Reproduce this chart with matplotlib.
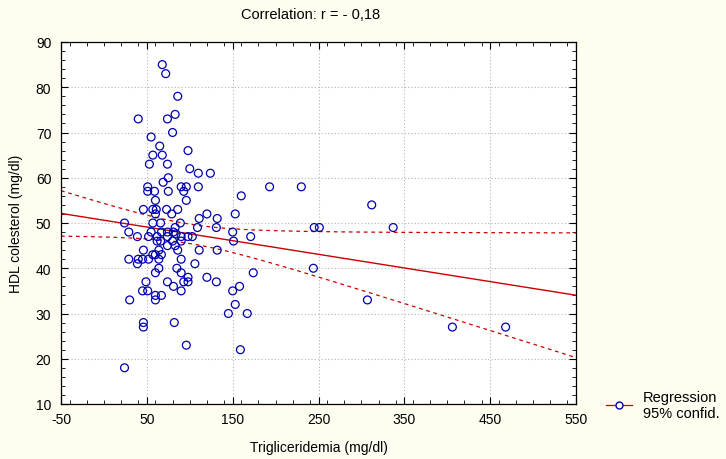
"""Scatter of HDL cholesterol vs triglycerides with regression line and 95% band."""

import matplotlib

matplotlib.use("Agg")
import matplotlib.pyplot as plt
import numpy as np
from matplotlib.lines import Line2D
from matplotlib.ticker import MultipleLocator

# values (mg/dl)
trig = [
    68, 72, 86, 40, 74, 83, 80, 55, 65, 98, 57, 68, 53, 74, 100, 110, 124, 75,
    69, 51, 59, 51, 75, 90, 96, 93, 110, 60, 96,
    46, 57, 61, 73, 86, 79, 60, 120, 111, 132,
    24, 57, 66, 89, 83, 109, 131,
    29, 55, 67, 74, 81, 84,
    39, 52, 62, 74, 90, 98, 103,
    62, 66, 80, 90, 74, 83,
    46, 64, 86, 111, 132, 57, 60, 67,
    29, 40, 45, 52, 64, 90, 39, 106,
    64, 85, 60, 90, 98, 120,
    49, 74, 93, 98, 131, 81, 45, 51, 90, 60, 67,
    30, 60, 153, 145, 167, 46, 46, 82, 96, 159, 24,
    193, 230, 160, 153, 150, 171, 151, 312, 245, 251, 337,
    174, 244, 150, 158, 307, 406, 468,
]
hdl = [
    85, 83, 78, 73, 73, 74, 70, 69, 67, 66, 65, 65, 63, 63, 62, 61, 61, 60,
    59, 58, 57, 57, 57, 58, 58, 57, 58, 55, 55,
    53, 53, 53, 53, 53, 52, 52, 52, 51, 51,
    50, 50, 50, 50, 49, 49, 49,
    48, 48, 48, 48, 48, 47.6,
    47, 47, 47, 47, 47, 47, 47,
    46, 46, 46, 46, 45, 45,
    44, 44, 44, 44, 44, 43, 43, 43,
    42, 42, 42, 42, 42, 42, 41, 41,
    40, 40, 39, 39, 38, 38,
    37, 37, 37, 37, 37, 36, 35, 35, 35, 34, 34,
    33, 33, 32, 30, 30, 28, 27, 28, 23, 22, 18,
    58, 58, 56, 52, 48, 47, 46, 54, 49, 49, 49,
    39, 40, 35, 36, 33, 27, 27,
]

x = np.asarray(trig, dtype=float)
y = np.asarray(hdl, dtype=float)
n = len(x)
slope, intercept = np.polyfit(x, y, 1)
resid = y - (intercept + slope * x)
s = np.sqrt(np.sum(resid ** 2) / (n - 2))
sxx = np.sum((x - x.mean()) ** 2)
r = np.corrcoef(x, y)[0, 1]
print(f"n={n} r={r:.3f} slope={slope:.4f} intercept={intercept:.2f}")

xs = np.linspace(-50, 550, 200)
fit = intercept + slope * xs
half = 1.98 * s * np.sqrt(1.0 / n + (xs - x.mean()) ** 2 / sxx)

plt.rcParams.update(
    {
        "font.family": ["Liberation Sans", "DejaVu Sans"],
        "font.size": 10,
        "axes.unicode_minus": False,
    }
)

bg = "#fffdf0"
red = "#cc0000"
blue = "#0000b0"

fig = plt.figure(figsize=(7.26, 4.60), dpi=100, facecolor=bg)
ax = fig.add_axes([61 / 726, 55 / 460, 515 / 726, 362 / 460])
ax.set_facecolor("white")

ax.plot(xs, fit, color=red, lw=1.0, zorder=2)
ax.plot(xs, fit + half, color=red, lw=0.9, ls=(0, (3, 3)), zorder=2)
ax.plot(xs, fit - half, color=red, lw=0.9, ls=(0, (3, 3)), zorder=2)
ax.scatter(x, y, s=32, facecolors="none", edgecolors=blue, linewidths=0.9, zorder=3)

ax.set_xlim(-50, 550)
ax.set_ylim(10, 90)
ax.set_xticks(np.arange(-50, 551, 100))
ax.set_yticks(np.arange(10, 91, 10))
ax.xaxis.set_minor_locator(MultipleLocator(20))
ax.yaxis.set_minor_locator(MultipleLocator(2))
ax.tick_params(which="both", direction="in", top=True, right=True, colors="black")
ax.tick_params(which="major", length=5, width=0.8, labelsize=10)
ax.tick_params(axis="x", which="major", pad=6)
ax.tick_params(axis="y", which="major", pad=7)
ax.tick_params(which="minor", length=3, width=0.6)
ax.grid(True, which="major", linestyle=(0, (1, 2)), linewidth=0.8, color="#b4b4b4")
for sp in ax.spines.values():
    sp.set_linewidth(0.9)

ax.set_xlabel("Trigliceridemia (mg/dl)", fontsize=10, labelpad=10)
ax.set_ylabel("HDL colesterol (mg/dl)", fontsize=10, labelpad=9)
fig.text(311 / 726, 1 - 15 / 460, "Correlation: r = - 0,18", ha="center", va="center", fontsize=10.5)

handle = Line2D([0], [0], color=red, lw=0.9, marker="o", mfc="white", mec=blue, ms=5)
fig.legend(
    [handle],
    ["Regression\n95% confid."],
    loc="center left",
    bbox_to_anchor=(593 / 726, 1 - 406 / 460),
    frameon=False,
    fontsize=10.5,
    handlelength=1.8,
    handletextpad=0.7,
    labelspacing=0.2,
)

fig.savefig("out.png", dpi=100, facecolor=bg)
